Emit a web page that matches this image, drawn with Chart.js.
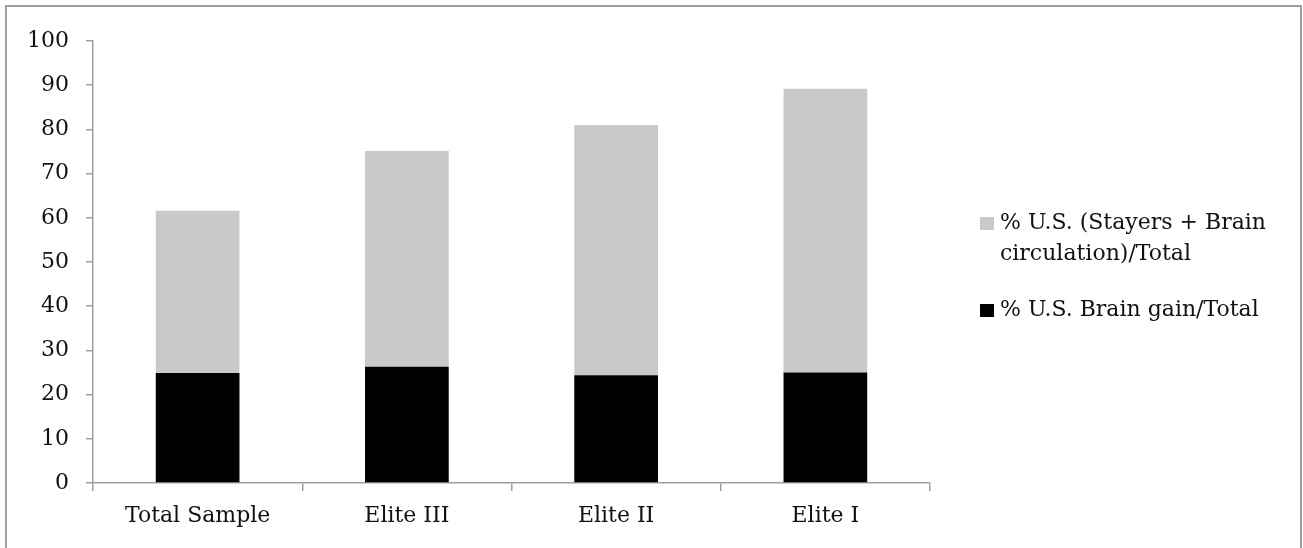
<!DOCTYPE html>
<html>
<head>
<meta charset="utf-8">
<script src="https://cdn.jsdelivr.net/npm/chart.js@4"></script>
<style>
  html, body { margin: 0; padding: 0; background: #fff; }
  canvas { display: block; }
</style>
</head>
<body>
<canvas id="brainChart" width="1303" height="548"></canvas>
<script>
const categories = ["Total Sample", "Elite III", "Elite II", "Elite I"];
const brainGain = [24.9, 26.3, 24.4, 25.0];
const stayersCirculation = [36.7, 48.8, 56.6, 64.2];
const seriesNames = ["% U.S. Brain gain/Total", "% U.S. (Stayers + Brain circulation)/Total"];
const yTicks = [0, 10, 20, 30, 40, 50, 60, 70, 80, 90, 100];

const FONT = "'DejaVu Serif', serif";
const AXIS = "#9f9f9f";

// frame around the whole chart + legend drawn by hand
const framePlugin = {
    id: "frame",
    beforeDraw(chart) {
        const ctx = chart.ctx;
        ctx.save();
        ctx.fillStyle = "#fff";
        ctx.fillRect(0, 0, chart.width, chart.height);
        ctx.strokeStyle = AXIS;
        ctx.lineWidth = 2;
        ctx.strokeRect(6, 6, 1295, 600);
        ctx.restore();
    },
    afterDraw(chart) {
        const ctx = chart.ctx;
        ctx.save();
        ctx.font = "22px " + FONT;
        ctx.textBaseline = "middle";
        ctx.fillStyle = "#c9c9c9";
        ctx.fillRect(980, 217, 14, 13);
        ctx.fillStyle = "#000";
        ctx.fillRect(980, 304, 14, 13);
        ctx.fillStyle = "#111";
        ctx.fillText("% U.S. (Stayers + Brain", 1000, 223);
        ctx.fillText("circulation)/Total", 1000, 254);
        ctx.fillText(seriesNames[0], 1000, 310);
        ctx.restore();
    }
};

new Chart(document.getElementById("brainChart").getContext("2d"), {
    type: "bar",
    data: {
        labels: categories,
        datasets: [
            {
                label: seriesNames[0],
                data: brainGain,
                backgroundColor: "#000000",
                barPercentage: 0.4,
                categoryPercentage: 1.0
            },
            {
                label: seriesNames[1],
                data: stayersCirculation,
                backgroundColor: "#c9c9c9",
                barPercentage: 0.4,
                categoryPercentage: 1.0
            }
        ]
    },
    options: {
        responsive: false,
        animation: false,
        layout: { padding: { left: 0, top: 41, right: 373, bottom: 0 } },
        plugins: {
            legend: { display: false },
            tooltip: { enabled: false }
        },
        scales: {
            x: {
                stacked: true,
                afterFit(scale) { scale.height = 65; },
                grid: {
                    display: true,
                    drawOnChartArea: false,
                    tickLength: 8,
                    color: AXIS,
                    lineWidth: 1.5
                },
                border: { color: AXIS, width: 1.5 },
                ticks: {
                    color: "#111",
                    padding: 12,
                    font: { family: FONT, size: 22 }
                }
            },
            y: {
                stacked: true,
                min: 0,
                max: 100,
                afterFit(scale) { scale.width = 93; },
                afterBuildTicks(scale) {
                    scale.ticks = yTicks.map(v => ({ value: v }));
                },
                grid: {
                    display: true,
                    drawOnChartArea: false,
                    tickLength: 7,
                    color: AXIS,
                    lineWidth: 1.5
                },
                border: { color: AXIS, width: 1.5 },
                ticks: {
                    color: "#111",
                    padding: 17,
                    font: { family: FONT, size: 22 }
                }
            }
        }
    },
    plugins: [framePlugin]
});
</script>
</body>
</html>
